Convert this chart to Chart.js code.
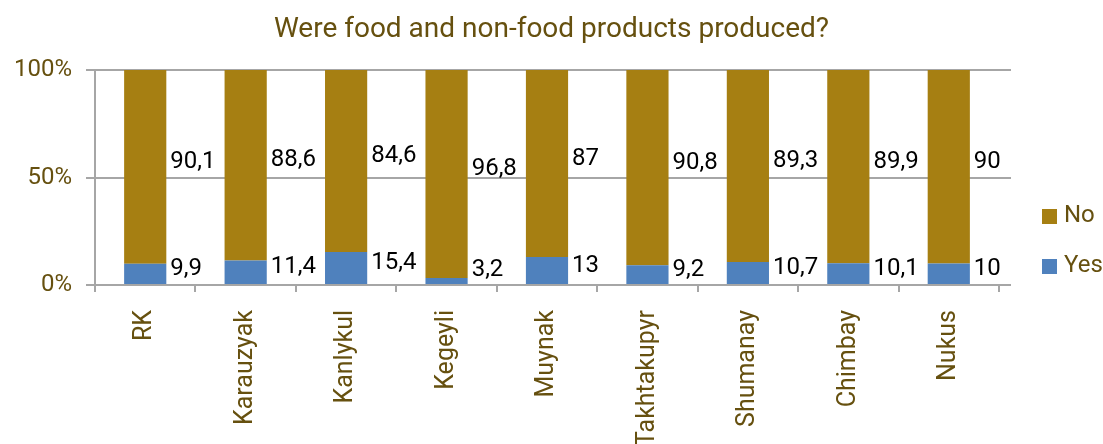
<!DOCTYPE html>
<html>
<head>
<meta charset="utf-8">
<script src="https://cdn.jsdelivr.net/npm/chart.js@4.4.0/dist/chart.umd.min.js"></script>
<style>
  html, body { margin: 0; padding: 0; background: #fff; }
  #wrap { width: 1103px; height: 444px; }
</style>
</head>
<body>
<div id="wrap"><canvas id="chart" width="1103" height="444"></canvas></div>
<script>
// Share of enterprises by district, percent
const districts = ['RK', 'Karauzyak', 'Kanlykul', 'Kegeyli', 'Muynak', 'Takhtakupyr', 'Shumanay', 'Chimbay', 'Nukus'];
const yesShare = [9.9, 11.4, 15.4, 3.2, 13, 9.2, 10.7, 10.1, 10];
const noShare = [90.1, 88.6, 84.6, 96.8, 87, 90.8, 89.3, 89.9, 90];
const percentTicks = [0, 50, 100];
const chartTitle = 'Were food and non-food products produced?';

const OLIVE_TEXT = '#66500f';
const GRID_GREY = '#a6a6a6';
const FONT = 'Roboto';

// Title centred on the whole canvas (the right side is kept free for the legend)
const canvasTitle = {
    id: 'canvasTitle',
    afterDraw(chart) {
        const { ctx } = chart;
        ctx.save();
        ctx.font = `28px ${FONT}`;
        ctx.fillStyle = OLIVE_TEXT;
        ctx.textAlign = 'center';
        ctx.textBaseline = 'middle';
        ctx.fillText(chartTitle, chart.width / 2, 30);
        ctx.restore();
    }
};

// Writes each segment's value just to the right of its bar
const valueLabels = {
    id: 'valueLabels',
    afterDatasetsDraw(chart) {
        const { ctx, scales: { y } } = chart;
        ctx.save();
        ctx.font = `24px ${FONT}`;
        ctx.fillStyle = '#000';
        ctx.textAlign = 'left';
        ctx.textBaseline = 'middle';
        chart.data.datasets.forEach((ds, di) => {
            chart.getDatasetMeta(di).data.forEach((bar, i) => {
                const mid = (bar.y + bar.base) / 2 - 5;
                const yy = Math.min(mid, y.bottom - 15);
                const txt = String(ds.data[i]).replace('.', ',');
                ctx.fillText(txt, bar.x + bar.width / 2 + 4, yy);
            });
        });
        ctx.restore();
    }
};

// Horizontal grid lines run a little past the last category
const gridTail = {
    id: 'gridTail',
    beforeDatasetsDraw(chart) {
        const { ctx, chartArea, scales: { y } } = chart;
        ctx.save();
        ctx.strokeStyle = GRID_GREY;
        ctx.lineWidth = 2;
        y.ticks.forEach(t => {
            const py = Math.round(y.getPixelForValue(t.value));
            ctx.beginPath();
            ctx.moveTo(chartArea.right, py);
            ctx.lineTo(chartArea.right + 12, py);
            ctx.stroke();
        });
        ctx.restore();
    }
};

// Legend on the right, "No" above "Yes", placed lower than the plot middle
const sideLegend = {
    id: 'sideLegend',
    afterDraw(chart) {
        const { ctx, chartArea } = chart;
        const items = chart.data.datasets.slice().reverse();
        const x = chartArea.right + 43;
        ctx.save();
        ctx.font = `24px ${FONT}`;
        ctx.textAlign = 'left';
        ctx.textBaseline = 'middle';
        items.forEach((ds, k) => {
            const cy = chartArea.top + 146 + k * 50;
            ctx.fillStyle = ds.backgroundColor;
            ctx.fillRect(x, cy - 7, 15, 15);
            ctx.fillStyle = OLIVE_TEXT;
            ctx.fillText(ds.label, x + 22, cy);
        });
        ctx.restore();
    }
};

const ctx = document.getElementById('chart').getContext('2d');
new Chart(ctx, {
    type: 'bar',
    data: {
        labels: districts,
        datasets: [
            { label: 'Yes', data: yesShare, backgroundColor: '#4f81bd', borderWidth: 0 },
            { label: 'No', data: noShare, backgroundColor: '#a67f12', borderWidth: 0 }
        ]
    },
    options: {
        responsive: false,
        animation: false,
        layout: { padding: { left: 0, right: 104, top: 70, bottom: 0 } },
        datasets: { bar: { categoryPercentage: 1, barPercentage: 0.42 } },
        scales: {
            x: {
                stacked: true,
                afterFit: (scale) => { scale.height = 159; },
                grid: { drawOnChartArea: false, drawTicks: true, tickLength: 7, color: GRID_GREY, lineWidth: 2, offset: true },
                border: { color: GRID_GREY, width: 2 },
                ticks: { color: OLIVE_TEXT, font: { family: FONT, size: 25 }, minRotation: 90, maxRotation: 90, padding: 18, autoSkip: false }
            },
            y: {
                stacked: true,
                min: 0, max: 100,
                afterFit: (scale) => { scale.width = 95; },
                afterBuildTicks: (scale) => { scale.ticks = percentTicks.map(v => ({ value: v })); },
                grid: { color: GRID_GREY, lineWidth: 2, tickLength: 9 },
                border: { color: GRID_GREY, width: 2 },
                ticks: { color: OLIVE_TEXT, font: { family: FONT, size: 24 }, padding: 14, callback: (v) => v + '%' }
            }
        },
        plugins: {
            title: { display: false },
            legend: { display: false },
            tooltip: { enabled: false }
        }
    },
    plugins: [gridTail, valueLabels, sideLegend, canvasTitle]
});
</script>
</body>
</html>
